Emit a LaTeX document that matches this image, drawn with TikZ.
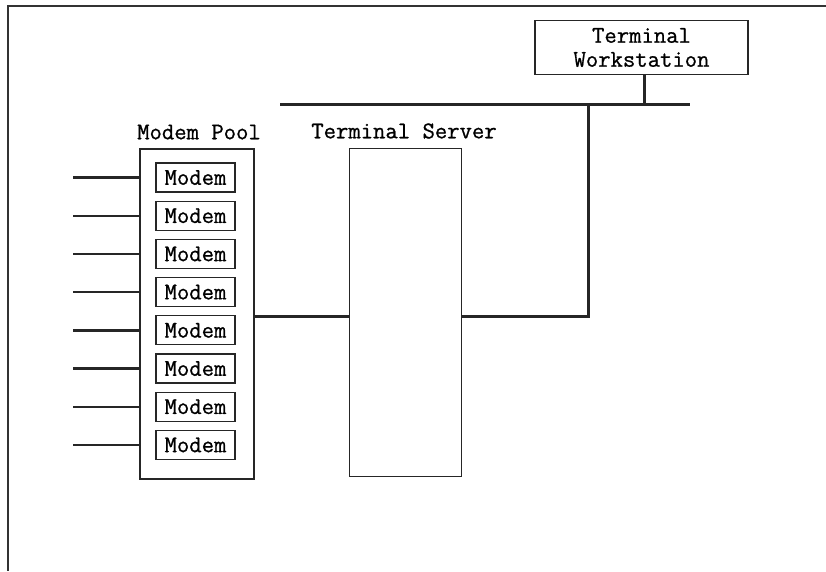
\documentclass[tikz,border=0pt]{standalone}
\usepackage{fontspec}
\setmonofont[FakeBold=0.8]{Latin Modern Mono}
\begin{document}
\begin{tikzpicture}[x=1pt,y=-1pt,
  lbl/.style={font=\ttfamily\fontsize{24}{24}\selectfont, inner sep=0pt},
  box/.style={draw=black!85, line width=1.4pt, inner sep=0pt},
  modembox/.style={box, minimum width=79pt, minimum height=29pt, line width=1.3pt, font=\ttfamily\fontsize{24}{24}\selectfont},
  wire/.style={line width=3pt, black!85},
  bus/.style={line width=3.6pt, black!85}]
\useasboundingbox (0,0) rectangle (826,571);
% outer frame (top and left only)
\draw[line width=1.8pt, black!80] (826,6) -- (8,6) -- (8,571);
% terminal workstation
\node[box, minimum width=213pt, minimum height=54pt, align=center, lbl, draw=black!85, line width=1.4pt] (tw) at (641.5,47.5) {Terminal\\[0pt]Workstation};
% bus
\coordinate (busL) at (280,104.5);
\coordinate (busR) at (690,104.5);
\draw[bus] (busL) -- (busR);
\coordinate (twb) at (644,104.5);
\draw[wire] (tw.south -| twb) -- (twb);
% terminal server
\node[box, minimum width=112pt, minimum height=328pt] (ts) at (405.5,312.5) {};
\node[lbl] (tsl) at (404,131) {Terminal Server};
\coordinate (c1) at (588,104.5);
\coordinate (c2) at (588,316);
\draw[wire] (ts.east |- c2) -- (c2) -- (c1);
% modem pool
\node[box, minimum width=114pt, minimum height=330pt] (mp) at (197,314) {};
\node[lbl] (mpl) at (199,132) {Modem Pool};
\draw[wire] (mp.east |- c2) -- (ts.west |- c2);
% modems
\foreach \i in {0,...,7} {
  \node[modembox] (m\i) at (195.5,177.5+38.2*\i) {Modem};
  \coordinate (l\i) at (73,177.5+38.2*\i);
  \draw[line width=2.4pt, black!85] (l\i) -- (mp.west |- l\i);
}
\end{tikzpicture}
\end{document}
